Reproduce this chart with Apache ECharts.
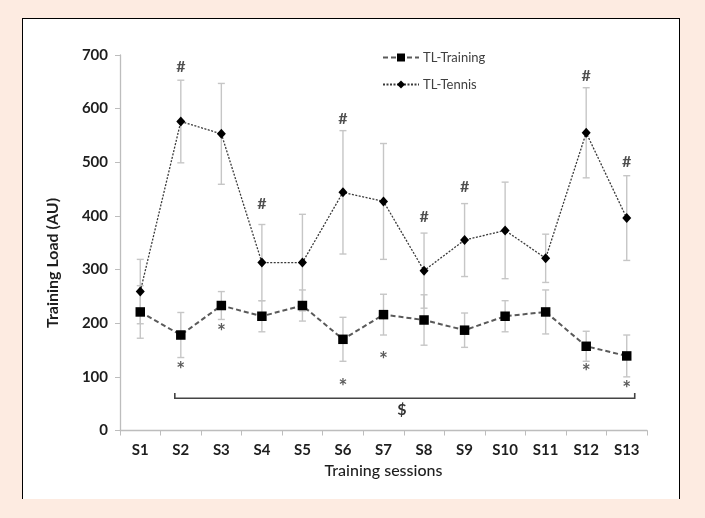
<!DOCTYPE html>
<html>
<head>
<meta charset="utf-8">
<script src="https://cdn.jsdelivr.net/npm/echarts@6/dist/echarts.min.js"></script>
<style>
  html, body { margin:0; padding:0; width:705px; height:518px; background:#fdebe1; overflow:hidden; }
  #panel { position:absolute; left:22px; top:18px; width:658px; height:481px; background:#ffffff;
           border-left:1.5px solid #000; border-top:1.5px solid #000; border-right:1.5px solid #000; box-sizing:border-box; }
  #chart { position:absolute; left:0; top:0; width:705px; height:518px; }
</style>
</head>
<body>
<div id="panel"></div>
<div id="chart"></div>
<script>
// ---- data ----
const sessions = ['S1','S2','S3','S4','S5','S6','S7','S8','S9','S10','S11','S12','S13'];
const trainingMean = [221, 178, 233, 213, 233, 170, 216, 206, 187, 213, 221, 157, 139];
const trainingSD   = [49, 42, 26, 29, 29, 41, 38, 47, 32, 29, 41, 28, 39];
const tennisMean   = [259, 576, 553, 313, 313, 444, 427, 298, 355, 373, 321, 555, 396];
const tennisSD     = [60, 77, 94, 71, 90, 115, 108, 70, 68, 90, 45, 84, 79];
// '#' marks (tennis) and '*' marks (training): session and value level of the mark
const hashSessions = ['S2','S4','S6','S8','S9','S12','S13'];
const hashLevels   = [678, 422, 581, 399, 455, 661, 500];
const starSessions = ['S2','S3','S6','S7','S12','S13'];
const starLevels   = [112, 184, 81, 131, 109, 77];
// '$' bracket from S2 to S13
const bracketFrom = 'S2', bracketTo = 'S13', bracketLevel = 60, bracketTickTop = 70, dollarLevel = 38;
const yTicks = [0, 100, 200, 300, 400, 500, 600, 700];

const FONT = 'Lato, "Open Sans", sans-serif';

const chart = echarts.init(document.getElementById('chart'), null, {renderer:'canvas'});

function errorBar(means, sds) {
  return sessions.map((s, i) => [i, means[i] - sds[i], means[i] + sds[i]]);
}
function errorRender(params, api) {
  const x = api.value(0);
  const lo = api.coord([x, api.value(1)]);
  const hi = api.coord([x, api.value(2)]);
  const hw = 3.5;
  const st = {stroke:'#c6c6c6', lineWidth:1.4};
  return {type:'group', children:[
    {type:'line', shape:{x1:lo[0], y1:lo[1], x2:hi[0], y2:hi[1]}, style:st},
    {type:'line', shape:{x1:lo[0]-hw, y1:lo[1], x2:lo[0]+hw, y2:lo[1]}, style:st},
    {type:'line', shape:{x1:hi[0]-hw, y1:hi[1], x2:hi[0]+hw, y2:hi[1]}, style:st}
  ]};
}

const option = {
  backgroundColor: 'transparent',
  animation: false,
  grid: {left:120, right:58, top:55, bottom:87.5},
  legend: {
    data: ['TL-Training', 'TL-Tennis'],
    orient: 'vertical', left: 377, top: 46,
    itemWidth: 36, itemHeight: 10, itemGap: 14,
    textStyle: {fontFamily: FONT, fontSize: 13, color: '#404040', padding:[0,0,0,-1]}
  },
  xAxis: {
    type: 'category', data: sessions, boundaryGap: true,
    axisLine: {lineStyle: {color:'#bdbdbd', width:1.3}},
    axisTick: {show:true, length:5, inside:false, alignWithLabel:false, lineStyle:{color:'#bdbdbd'}},
    axisLabel: {fontFamily: FONT, fontWeight:'bold', fontSize:15, color:'#1e1e1e', margin:12, interval:0},
    name: 'Training sessions', nameLocation: 'middle', nameGap: 30,
    nameTextStyle: {fontFamily: FONT, fontSize:16, color:'#1e1e1e', fontWeight:500}
  },
  yAxis: {
    type: 'value', min: 0, max: 700, interval: 100,
    axisLine: {show:true, lineStyle: {color:'#bdbdbd', width:1.3}},
    axisTick: {show:true, length:5, lineStyle:{color:'#bdbdbd'}},
    splitLine: {show:false},
    axisLabel: {fontFamily: FONT, fontWeight:'bold', fontSize:15, color:'#1e1e1e', margin:12,
                formatter: v => yTicks.includes(v) ? String(v) : ''}
  },
  graphic: [{
    type:'text', rotation: Math.PI/2,
    x: 53, y: 263,
    style: {text:'Training Load (AU)', fontFamily: FONT, fontWeight:'bold', fontSize:16, fill:'#1e1e1e',
            align:'center', verticalAlign:'middle'}
  }],
  series: [
    {
      name:'errTraining', type:'custom', renderItem: errorRender, data: errorBar(trainingMean, trainingSD),
      z: 1, silent:true
    },
    {
      name:'errTennis', type:'custom', renderItem: errorRender, data: errorBar(tennisMean, tennisSD),
      z: 1, silent:true
    },
    {
      name:'TL-Training', type:'line', data: trainingMean, symbol:'rect', symbolSize:9.5,
      lineStyle:{color:'#5a5a5a', width:2, type:[5,3]},
      itemStyle:{color:'#000'}, z: 3
    },
    {
      name:'TL-Tennis', type:'line', data: tennisMean, symbol:'diamond', symbolSize:[9,10],
      lineStyle:{color:'#3a3a3a', width:1.3, type:[2,1.5]},
      itemStyle:{color:'#000'}, z: 4
    },
    {
      name:'hash', type:'scatter', symbolSize:1, itemStyle:{color:'rgba(0,0,0,0)'},
      data: hashSessions.map((s, i) => [s, hashLevels[i]]),
      label:{show:true, position:'inside', formatter:'#', fontFamily: FONT, fontWeight:'bold', fontSize:16, color:'#222'},
      silent:true, z:5
    },
    {
      name:'star', type:'scatter', symbolSize:1, itemStyle:{color:'rgba(0,0,0,0)'},
      data: starSessions.map((s, i) => [s, starLevels[i]]),
      label:{show:true, position:'inside', formatter:'*', fontFamily: FONT, fontWeight:'bold', fontSize:21, color:'#333'},
      silent:true, z:5
    },
    {
      name:'bracket', type:'custom', silent:true, z:2,
      data: [[sessions.indexOf(bracketFrom), sessions.indexOf(bracketTo), bracketLevel, bracketTickTop, dollarLevel]],
      renderItem: function(params, api) {
        const a = api.coord([api.value(0), api.value(2)]);
        const b = api.coord([api.value(1), api.value(2)]);
        const top = api.coord([api.value(0), api.value(3)])[1];
        const dy = api.coord([api.value(0), api.value(4)])[1];
        const x1 = a[0] - 6, x2 = b[0] + 8, y = a[1];
        const st = {stroke:'#444', lineWidth:1.6};
        return {type:'group', children:[
          {type:'polyline', shape:{points:[[x1, top],[x1, y],[x2, y],[x2, top]]}, style:{...st, fill:null}},
          {type:'text', x:(x1+x2)/2 - 3, y: dy,
           style:{text:'$', fontFamily: FONT, fontWeight:'bold', fontSize:16, fill:'#333', align:'center', verticalAlign:'middle'}}
        ]};
      }
    }
  ]
};
chart.setOption(option);
</script>
</body>
</html>
